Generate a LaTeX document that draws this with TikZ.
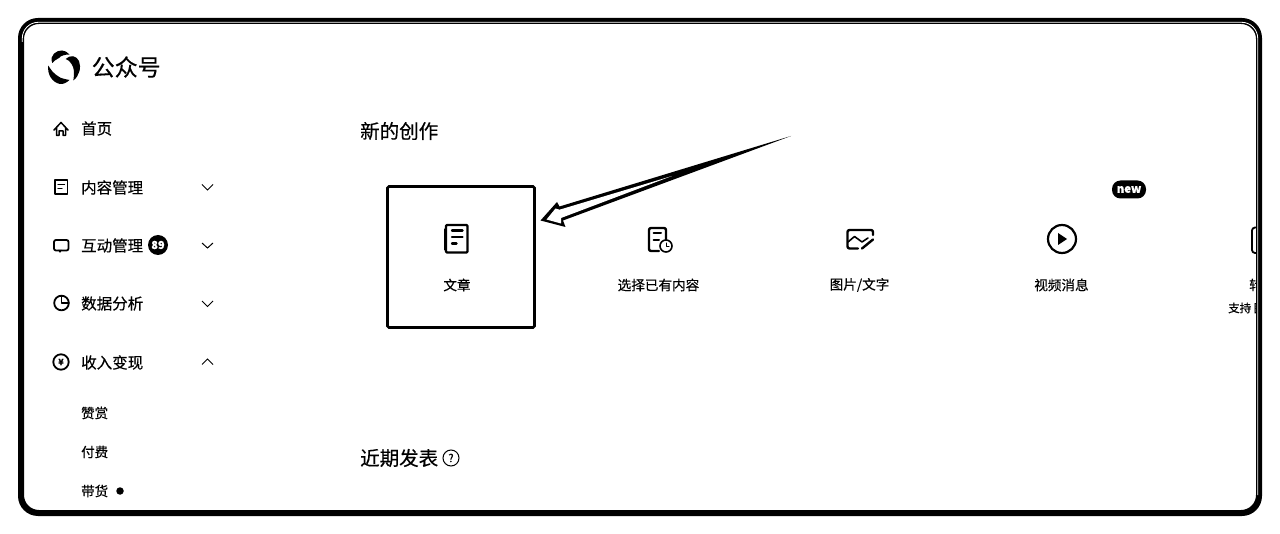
\documentclass[tikz,border=0pt]{standalone}
\usepackage{fontspec}
\setmainfont[FakeBold=0.35]{Noto Sans CJK SC}
\usetikzlibrary{calc}
\tikzset{
 side/.style={anchor=west,inner sep=0pt,font=\fontsize{15.5pt}{16pt}\selectfont},
 subitem/.style={anchor=west,inner sep=0pt,font=\fontsize{13.5pt}{14pt}\selectfont},
 head/.style={anchor=west,inner sep=0pt,font=\fontsize{19.5pt}{20pt}\selectfont},
 cardcap/.style={inner sep=0pt,font=\fontsize{13.6pt}{14pt}\selectfont},
 ico/.style={line width=1.8pt,line join=round,line cap=round},
 chev/.style={line width=1pt},
}
\begin{document}
\begin{tikzpicture}[x=1pt,y=-1pt]
\useasboundingbox (0,0) rectangle (1280,534);
\fill[white] (0,0) rectangle (1280,534);
% logo
\fill (52.3,63) .. controls (49,55) and (57,50) .. (62,50.5) .. controls (65,50.5) and (67,52) .. (69.5,54.5) .. controls (65,54.5) and (61,55.5) .. (59,58) .. controls (56,59.5) and (54,61) .. cycle;
\fill (65.7,59) .. controls (70,54.5) and (76.5,55.5) .. (79,61) .. controls (81.5,67) and (79.5,76) .. (73.3,80.5) .. controls (74.5,74) and (74.5,68) .. (71.5,64) .. controls (70,61.5) and (68,59.5) .. cycle;
\fill (48.3,65.5) .. controls (47,74) and (52,82.5) .. (60,84) .. controls (63,84.5) and (67,82.5) .. (69.5,80) .. controls (65,79) and (61,78.5) .. (58.5,76.5) .. controls (53.5,73.5) and (51,70) .. cycle;
\node[inner sep=0pt,anchor=west,font=\fontsize{23pt}{24pt}\selectfont] (brand) at (91.5,67) {公众号};
% side menu
\node[side] (m1) at (81,128.5) {首页};
\node[side] (m2) at (81,187.5) {内容管理};
\node[side] (m3) at (81,245.5) {互动管理};
\node[side] (m4) at (81,303.5) {数据分析};
\node[side] (m5) at (81,362.5) {收入变现};
\node[subitem] (s1) at (81,413) {赞赏};
\node[subitem] (s2) at (81,452) {付费};
\node[subitem] (s3) at (81,491) {带货};
\node[circle,fill=black,inner sep=0pt,minimum size=7.5pt] (dot) at (120,491) {};
\node[circle,fill=black,text=white,inner sep=0pt,minimum size=20pt,font=\bfseries\fontsize{11pt}{11pt}\selectfont] (badge) at (158,245) {89};
% chevrons
\draw[chev] (202,184.5) -- (207.5,190) -- (213,184.5);
\draw[chev] (202,243) -- (207.5,248) -- (213,243);
\draw[chev] (202,301) -- (207.5,306.5) -- (213,301);
\draw[chev] (202,364.5) -- (207.5,359) -- (213,364.5);
% side icons
\draw[ico,line width=1.5pt] (54,130) -- (61,122.5) -- (68,130) (56.5,128) -- (56.5,135.5) -- (59,135.5) -- (59,131) -- (63,131) -- (63,135.5) -- (65.5,135.5) -- (65.5,128);
\draw[ico] (55,180) rectangle (67.5,194);
\draw[ico,line width=1.3pt] (58,184.5) -- (64.5,184.5) (58,188.5) -- (62,188.5);
\draw[ico,rounded corners=2pt] (54,240) rectangle (68.5,250.5);
\fill (58,250) -- (62,250) -- (60,253) -- cycle;
\draw[ico] (61.5,303) circle (7.3);
\draw[ico,line width=1.6pt] (61.5,295.7) -- (61.5,303) -- (68.8,303);
\draw[ico] (61,362) circle (7.7);
\node[inner sep=0pt,font=\bfseries\fontsize{8.5pt}{9pt}\selectfont] (yen) at (61,362) {¥};
% section titles
\node[head] (t1) at (360,131) {新的创作};
\node[head] (t2) at (360,458) {近期发表};
\node[circle,draw=black,line width=1pt,inner sep=0pt,minimum size=16pt,font=\fontsize{11pt}{11pt}\selectfont] (help) at (451,458) {?};
% cards
\node[draw=black,line width=2.6pt,rounded corners=1.5pt,inner sep=0pt,minimum width=147pt,minimum height=141pt] (box) at (461,257) {};
\node[cardcap] (c1) at (457,285) {文章};
\node[cardcap] (c2) at (658.5,285) {选择已有内容};
\node[cardcap] (c3) at (859.5,285) {图片/文字};
\node[cardcap] (c4) at (1061.5,285) {视频消息};
\begin{scope}
\clip (1200,200) rectangle (1258,330);
\node[cardcap] (c5) at (1256,285) {转};
\node[inner sep=0pt,anchor=west,font=\fontsize{11.5pt}{12pt}\selectfont] (c6) at (1228,308) {支持 图};
\end{scope}
% icons in cards
\draw[ico,line width=2.4pt,rounded corners=1pt] (446,225) rectangle (467.5,252.5);
\draw[ico,line width=1pt] (444.5,229) -- (444.5,250);
\draw[ico,line width=2.4pt] (452,230.5) -- (462.5,230.5) (452,237) -- (462.5,237) (452,243.5) -- (456.5,243.5);
\draw[ico,line width=2.4pt,rounded corners=2pt] (666,240) -- (666,228) -- (649,228) -- (649,251) -- (659,251);
\draw[ico,line width=2pt] (653.5,233.5) -- (661,233.5) (653.5,240) -- (659,240);
\draw[ico,line width=1.6pt,fill=white] (666,246) circle (6);
\draw[ico,line width=1pt] (666,243) -- (666,246.5) -- (669,246.5);
\draw[ico,line width=2.4pt,rounded corners=2pt] (873,235) -- (873,230) -- (847.5,230) -- (847.5,248.5) -- (858,248.5);
\draw[ico,line width=1.6pt] (848,242) -- (854.5,236.5) -- (862,242) -- (868,238);
\draw[ico,line width=2.4pt] (862,248.5) -- (873,239.5);
\draw[ico,line width=2.2pt] (1062,239) circle (14);
\fill (1058,233) -- (1067,239) -- (1058,245) -- cycle;
\draw[ico,line width=1.8pt,rounded corners=3pt] (1260,227.5) -- (1252,227.5) -- (1252,253) -- (1260,253);
% new badge
\node[fill=black,text=white,rounded corners=8.5pt,inner sep=0pt,minimum width=34pt,minimum height=18pt,font=\bfseries\fontsize{11.5pt}{12pt}\selectfont] (newb) at (1129,189.5) {new};
% arrow
\coordinate (tail) at (791,136);
\coordinate (tip) at (540.5,220.5);
\fill[black] (tail) -- (559.5,206.5) -- (557,202) -- (tip) -- (565.5,227) -- (563,220.5) -- cycle;
\fill[white] (672,176) -- (559.5,209.7) -- (555.5,208.5) -- (546.5,219.5) -- (561,223.5) -- (561,218) -- cycle;
% frame
\fill[black,even odd rule] [rounded corners=20pt] (18,18) rectangle (1262,516) [rounded corners=15pt] (24,24) rectangle (1256,510);
\draw[white,line width=.8pt,rounded corners=16pt] (22.3,42) -- (22.3,22.3) -- (1257.7,22.3) -- (1257.7,495);
\end{tikzpicture}
\end{document}
